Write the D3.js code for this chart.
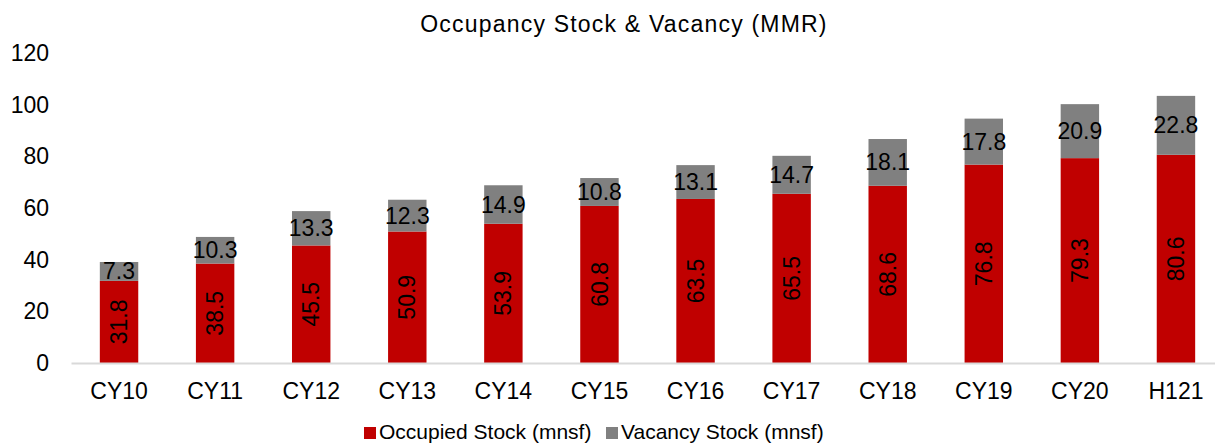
<!DOCTYPE html>
<html>
<head>
<meta charset="utf-8">
<script src="https://cdn.jsdelivr.net/npm/d3@7"></script>
<style>
body { margin:0; background:#fff; }
svg { font-family: "Liberation Sans", Arial, sans-serif; }
.y-axis path, .y-axis line { display:none; }
.x-axis path { stroke:#d9d9d9; stroke-width:2; }
.x-axis line { display:none; }
.tick text { font-size:23px; fill:#000; }
</style>
</head>
<body>
<svg width="1215" height="444"></svg>
<script>
const categories = ["CY10","CY11","CY12","CY13","CY14","CY15","CY16","CY17","CY18","CY19","CY20","H121"]
const occupied = [31.8,38.5,45.5,50.9,53.9,60.8,63.5,65.5,68.6,76.8,79.3,80.6]
const vacancy = [7.3,10.3,13.3,12.3,14.9,10.8,13.1,14.7,18.1,17.8,20.9,22.8]
const yTicks = [0,20,40,60,80,100,120]
const seriesNames = ["Occupied Stock (mnsf)","Vacancy Stock (mnsf)"]
const colors = ["#c00000","#808080"]

const svg = d3.select("svg")

const data = categories.map((c,i) => ({cat:c, occ:occupied[i], vac:vacancy[i]}))

const scaleX = d3.scaleBand()
    .domain(categories)
    .range([71,1224])
    .paddingInner(0.6)
    .paddingOuter(0.3)

const scaleY = d3.scaleLinear()
    .domain([0,120])
    .range([363,53])

svg.append("g")
    .attr("class","y-axis")
    .attr("transform","translate(49,0)")
    .call(d3.axisLeft(scaleY).tickValues(yTicks).tickSize(0).tickPadding(0))

svg.append("text")
    .attr("x",624)
    .attr("y",32)
    .attr("text-anchor","middle")
    .style("font-size","23px")
    .style("letter-spacing","1.2px")
    .text("Occupancy Stock & Vacancy (MMR)")

const bars = svg.selectAll("g.bar")
    .data(data)
    .enter()
    .append("g")
    .attr("class","bar")

bars.append("rect")
    .attr("x",d => scaleX(d.cat))
    .attr("y",d => scaleY(d.occ))
    .attr("width",scaleX.bandwidth())
    .attr("height",d => scaleY(0) - scaleY(d.occ))
    .attr("fill",colors[0])

bars.append("rect")
    .attr("x",d => scaleX(d.cat))
    .attr("y",d => scaleY(d.occ + d.vac))
    .attr("width",scaleX.bandwidth())
    .attr("height",d => scaleY(d.occ) - scaleY(d.occ + d.vac))
    .attr("fill",colors[1])

svg.append("g")
    .attr("class","x-axis")
    .attr("transform","translate(0,363)")
    .call(d3.axisBottom(scaleX).tickSize(0).tickPadding(20))

// occupied labels, rotated
bars.append("text")
    .attr("transform",d => {
        const x = scaleX(d.cat) + scaleX.bandwidth()/2
        const y = (scaleY(0) + scaleY(d.occ))/2
        return `translate(${x},${y}) rotate(-90)`
    })
    .attr("text-anchor","middle")
    .attr("dy","0.35em")
    .style("font-size","23px")
    .text(d => d.occ.toFixed(1))

// vacancy labels
bars.append("text")
    .attr("x",d => scaleX(d.cat) + scaleX.bandwidth()/2)
    .attr("y",d => (scaleY(d.occ) + scaleY(d.occ + d.vac))/2)
    .attr("text-anchor","middle")
    .attr("dy","0.35em")
    .style("font-size","23px")
    .text(d => d.vac.toFixed(1))

// legend
const legendX = [364,606]
const legend = svg.selectAll("g.legend")
    .data(seriesNames)
    .enter()
    .append("g")
    .attr("class","legend")
    .attr("transform",(d,i) => `translate(${legendX[i]},427)`)

legend.append("rect")
    .attr("width",12)
    .attr("height",12)
    .attr("fill",(d,i) => colors[i])

legend.append("text")
    .attr("x",15)
    .attr("y",12)
    .style("font-size","21px")
    .text(d => d)
</script>
</body>
</html>
